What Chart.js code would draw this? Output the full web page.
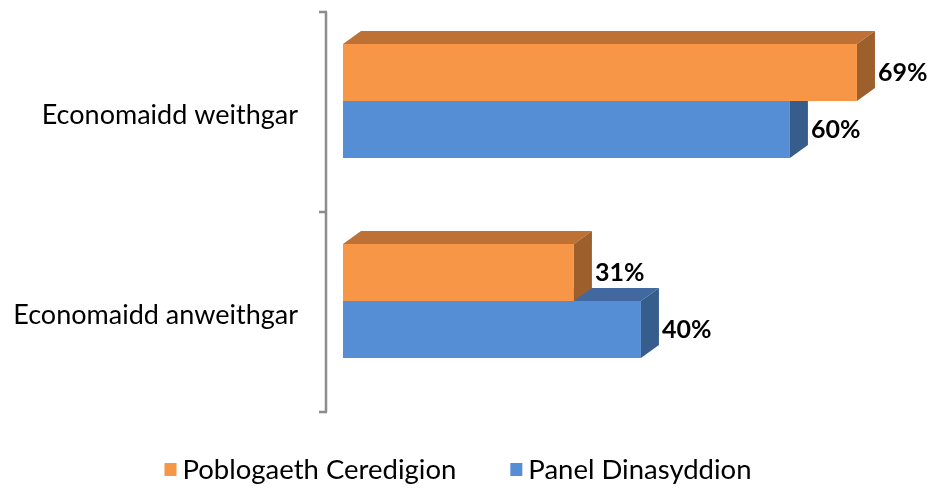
<!DOCTYPE html>
<html>
<head>
<meta charset="utf-8">
<script src="https://cdn.jsdelivr.net/npm/chart.js@4.4.1/dist/chart.umd.min.js"></script>
<style>
  html, body { margin: 0; padding: 0; background: #fff; }
  #wrap { width: 932px; height: 490px; }
</style>
</head>
<body>
<div id="wrap"><canvas id="chart"></canvas></div>
<script>
  // data
  const categories = ["Economaidd weithgar", "Economaidd anweithgar"];
  const seriesNames = ["Poblogaeth Ceredigion", "Panel Dinasyddion"];
  const ceredigion = [69, 31];
  const panel = [60, 40];

  // colours: front, top, side
  const orange = { front: "#F79646", top: "#BE7134", side: "#9D5F2C" };
  const blue = { front: "#558ED5", top: "#4169A0", side: "#365D8C" };

  const DEPTH_X = 18, DEPTH_Y = 13;
  const FONT = "Lato, 'Open Sans', sans-serif";

  // top + right faces drawn just before each dataset's front faces
  const bars3d = {
    id: "bars3d",
    beforeDatasetDraw(chart, args) {
      const ctx = chart.ctx;
      const faces = chart.data.datasets[args.index].faces;
      args.meta.data.forEach(el => {
        const p = el.getProps(["x", "y", "base", "height"], true);
        const top = p.y - p.height / 2, bottom = p.y + p.height / 2;
        ctx.save();
        ctx.fillStyle = faces.top;
        ctx.beginPath();
        ctx.moveTo(p.base, top);
        ctx.lineTo(p.x, top);
        ctx.lineTo(p.x + DEPTH_X, top - DEPTH_Y);
        ctx.lineTo(p.base + DEPTH_X, top - DEPTH_Y);
        ctx.closePath();
        ctx.fill();
        ctx.fillStyle = faces.side;
        ctx.beginPath();
        ctx.moveTo(p.x, top);
        ctx.lineTo(p.x + DEPTH_X, top - DEPTH_Y);
        ctx.lineTo(p.x + DEPTH_X, bottom - DEPTH_Y);
        ctx.lineTo(p.x, bottom);
        ctx.closePath();
        ctx.fill();
        ctx.restore();
      });
    },
    afterDatasetsDraw(chart) {
      const ctx = chart.ctx;
      ctx.save();
      ctx.font = "bold 25px " + FONT;
      ctx.fillStyle = "#000";
      ctx.textBaseline = "middle";
      ctx.textAlign = "left";
      chart.data.datasets.forEach((ds, i) => {
        chart.getDatasetMeta(i).data.forEach((el, j) => {
          ctx.fillText(ds.data[j] + "%", el.x + DEPTH_X + 3, el.y);
        });
      });
      ctx.restore();
    }
  };

  // the offset vertical category axis with its ticks
  const sideAxis = {
    id: "sideAxis",
    afterDraw(chart) {
      const ctx = chart.ctx;
      const ys = chart.scales.y;
      const x = chart.chartArea.left - 17;
      const shift = 11;
      const n = categories.length;
      const band = (ys.bottom - ys.top) / n;
      ctx.save();
      ctx.strokeStyle = "#8C8C8C";
      ctx.lineWidth = 2.5;
      ctx.beginPath();
      ctx.moveTo(x, ys.top + shift);
      ctx.lineTo(x, ys.bottom + shift);
      for (let i = 0; i <= n; i++) {
        const ty = ys.top + shift + band * i;
        ctx.moveTo(x - 7, ty);
        ctx.lineTo(x + 1, ty);
      }
      ctx.stroke();
      ctx.restore();
    }
  };

  // Excel style legend: small square, narrow gap to text
  const bottomLegend = {
    id: "bottomLegend",
    afterDraw(chart) {
      const ctx = chart.ctx;
      const box = 12, gap = 6, itemGap = 54;
      ctx.save();
      ctx.font = "27.5px " + FONT;
      ctx.textBaseline = "middle";
      ctx.textAlign = "left";
      const items = chart.data.datasets.map(ds => ({ text: ds.label, color: ds.backgroundColor, w: ctx.measureText(ds.label).width }));
      const total = items.reduce((s, it) => s + box + gap + it.w, 0) + itemGap * (items.length - 1);
      let x = chart.width / 2 - 8 - total / 2;
      const cy = chart.chartArea.bottom + 69;
      items.forEach(it => {
        ctx.fillStyle = it.color;
        ctx.fillRect(x, cy - 7, box, 13);
        ctx.fillStyle = "#000";
        ctx.fillText(it.text, x + box + gap, cy);
        x += box + gap + it.w + itemGap;
      });
      ctx.restore();
    }
  };

  new Chart(document.getElementById("chart"), {
    type: "bar",
    data: {
      labels: categories,
      datasets: [
        { label: seriesNames[0], data: ceredigion, backgroundColor: orange.front, faces: orange },
        { label: seriesNames[1], data: panel, backgroundColor: blue.front, faces: blue }
      ]
    },
    options: {
      indexAxis: "y",
      responsive: true,
      maintainAspectRatio: false,
      animation: false,
      layout: { padding: { top: 1, right: 8, bottom: 89, left: 0 } },
      datasets: { bar: { categoryPercentage: 0.57, barPercentage: 1 } },
      scales: {
        x: { display: false, min: 0, max: 78 },
        y: {
          grid: { display: false, drawTicks: false },
          border: { display: false },
          ticks: { color: "#000", font: { family: FONT, size: 27 }, padding: 45, labelOffset: 14 },
          afterFit(scale) {
            scale.width = 343;
            scale.paddingTop = 0;
            scale.paddingBottom = 0;
          }
        }
      },
      plugins: {
        legend: { display: false },
        tooltip: { enabled: false }
      }
    },
    plugins: [bars3d, sideAxis, bottomLegend]
  });
</script>
</body>
</html>
